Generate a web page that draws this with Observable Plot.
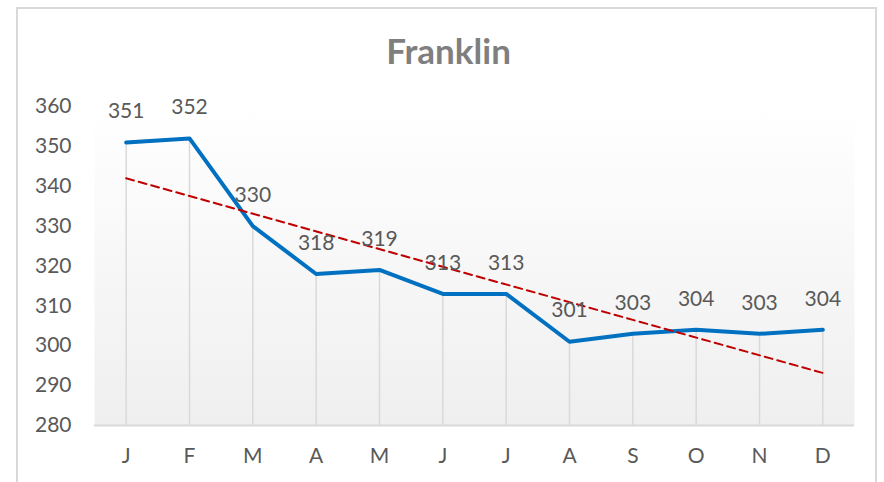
<!DOCTYPE html>
<html>
<head>
<meta charset="utf-8">
<script src="https://cdn.jsdelivr.net/npm/d3@7"></script>
<script src="https://cdn.jsdelivr.net/npm/@observablehq/plot@0.6"></script>
<style>
  html, body { margin: 0; padding: 0; background: #fff; }
  #wrap { position: relative; width: 884px; height: 482px; overflow: hidden; }
  #border { position: absolute; left: 16px; top: 7px; width: 861px; height: 500px; border: 2px solid #d9d9d9; box-sizing: border-box; }
  #chart { position: absolute; left: 0; top: 0; }
</style>
</head>
<body>
<div id="wrap"><div id="border"></div><div id="chart"></div></div>
<script>
const title = "Franklin";
const months = ["J","F","M","A","M","J","J","A","S","O","N","D"];
const values = [351,352,330,318,319,313,313,301,303,304,303,304];
const yTicks = [280,290,300,310,320,330,340,350,360];

const data = months.map((m, i) => ({idx: i + 1, month: m, value: values[i]}));
const font = "Lato, 'Open Sans', sans-serif";

const svg = Plot.plot({
  width: 884,
  height: 482,
  marginLeft: 94,
  marginRight: 30,
  marginTop: 106,
  marginBottom: 57,
  style: {fontFamily: font, background: "transparent", overflow: "visible"},
  x: {type: "linear", domain: [0.5, 12.5], axis: null},
  y: {domain: [280, 360], axis: null},
  marks: [
    Plot.frame({fill: "url(#plotbg)", stroke: null}),
    Plot.ruleX(data, {x: "idx", y1: 280, y2: "value", stroke: "#d9d9d9", strokeWidth: 1.5}),
    Plot.ruleY([280], {stroke: "#d9d9d9", strokeWidth: 2}),
    Plot.line(data, {x: "idx", y: "value", stroke: "#0070C0", strokeWidth: 4, strokeLinejoin: "round", strokeLinecap: "round"}),
    Plot.linearRegressionY(data, {x: "idx", y: "value", ci: 0, stroke: "#C00000", strokeWidth: 2, strokeDasharray: "8,5"}),
    Plot.text(data, {x: "idx", y: "value", text: d => String(d.value), dy: -31, fontSize: 21, fill: "#595959"}),
    Plot.axisY({ticks: yTicks, label: null, tickSize: 0, tickPadding: 23, fontSize: 21, fill: "#595959"}),
    Plot.text(data, {x: "idx", y: 280, text: "month", dy: 31, fontSize: 21, fill: "#595959"}),
    Plot.text([title], {frameAnchor: "top", dx: -26, dy: -43, lineAnchor: "bottom", fontSize: 35, fontWeight: "bold", fill: "#7f7f7f"})
  ]
});

const defs = d3.select(svg).insert("defs", ":first-child");
const g = defs.append("linearGradient").attr("id", "plotbg").attr("x1", 0).attr("y1", 0).attr("x2", 0).attr("y2", 1);
g.append("stop").attr("offset", "0%").attr("stop-color", "#ffffff");
g.append("stop").attr("offset", "100%").attr("stop-color", "#efefef");

document.getElementById("chart").appendChild(svg);
</script>
</body>
</html>
